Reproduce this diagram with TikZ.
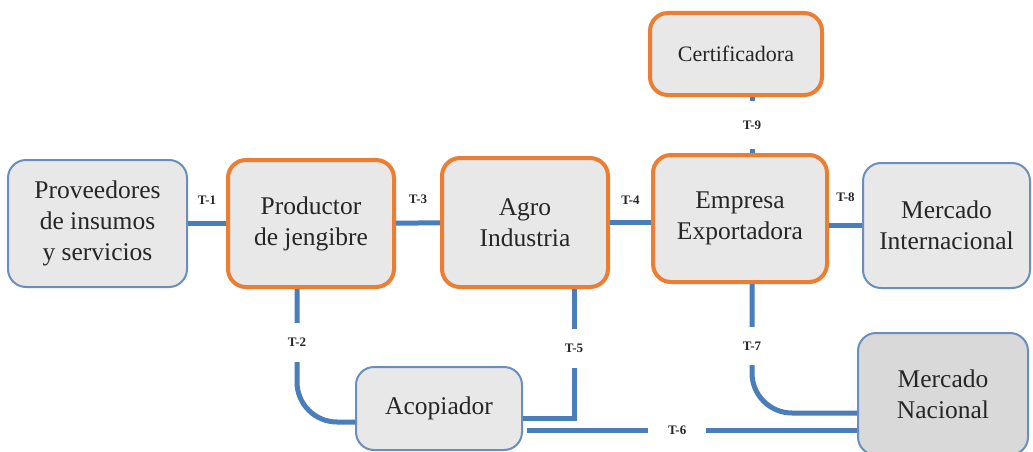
\documentclass[tikz,border=0pt]{standalone}
\usepackage{fontspec}
\setmainfont{Liberation Serif}
\definecolor{orangebox}{HTML}{ED7D31}
\definecolor{bluebox}{HTML}{6A8EBF}
\definecolor{linkblue}{HTML}{4A7EBB}
\definecolor{boxfill}{HTML}{E8E8E8}
\definecolor{darkfill}{HTML}{D9D9D9}
\begin{document}
\begin{tikzpicture}[x=1pt, y=-1pt, thick]
  \tikzstyle{actor}=[draw=bluebox, line width=2pt, fill=boxfill, rounded corners=18pt, align=center, text=black!85, font=\fontsize{25.5}{31}\selectfont]
  \tikzstyle{core}=[actor, draw=orangebox, line width=4pt]
  \tikzstyle{link}=[draw=linkblue, line width=5pt]
  \tikzstyle{tag}=[font=\bfseries\fontsize{13}{13}\selectfont, text=black!85, inner sep=1pt, sharp corners]
  \tikzstyle{gap}=[tag, fill=white, inner ysep=15pt]
  \useasboundingbox (0,0) rectangle (1033,452);
  % Place actors of the chain
  \node[actor, minimum width=179pt, minimum height=127pt] (prov) at (97.5,223.5) {Proveedores\\de insumos\\y servicios};
  \node[core, minimum width=166pt, minimum height=127pt] (prod) at (311,223.5) {Productor\\de jengibre};
  \node[core, minimum width=166pt, minimum height=129pt] (agro) at (525,222.5) {Agro\\Industria};
  \node[core, minimum width=174pt, minimum height=127pt] (emp) at (740,218.5) {Empresa\\Exportadora};
  \node[core, minimum width=172pt, minimum height=82pt, font=\fontsize{22}{28}\selectfont] (cert) at (736,54) {Certificadora};
  \node[actor, minimum width=167pt, minimum height=125pt] (mi) at (946.5,225.5) {Mercado\\Internacional};
  \node[actor, fill=darkfill, minimum width=170pt, minimum height=122pt] (mn) at (943,394) {Mercado\\Nacional};
  \node[actor, minimum width=166pt, minimum height=83pt] (acop) at (439,408.5) {Acopiador};

  % Connect them
  \foreach \a/\b/\t in {prov/prod/T-1, prod/agro/T-3}
    \path[link] (\a) edge node[tag, above=16pt] {\t} (\b);
  \draw[link] (agro.east) -- node[tag, above=15pt] {T-4} (agro.east -| emp.west);
  \draw[link] (mi.west -| emp.east) -- node[tag, above=20pt] {T-8} (mi.west);
  \draw[link] ([xshift=16pt]cert.south) -- node[gap, inner ysep=20pt] {T-9} ([xshift=16pt]cert.south |- emp.north);
  \draw[link, rounded corners=40pt] ([xshift=-14pt]prod.south) |- node[gap, pos=0.2] {T-2} ([yshift=-13.5pt]acop.west);
  \draw[link] ([xshift=49pt]agro.south) |- node[gap, pos=0.23] {T-5} ([yshift=-9.5pt]acop.east);
  \draw[link] ([xshift=4pt, yshift=-21.5pt]acop.east) -- node[gap, inner xsep=20pt, pos=0.455] {T-6} ([yshift=-36pt]mn.west);
  \draw[link, rounded corners=40pt] ([xshift=12pt]emp.south) |- node[gap, pos=0.24] {T-7} ([yshift=-19pt]mn.west);
\end{tikzpicture}
\end{document}
